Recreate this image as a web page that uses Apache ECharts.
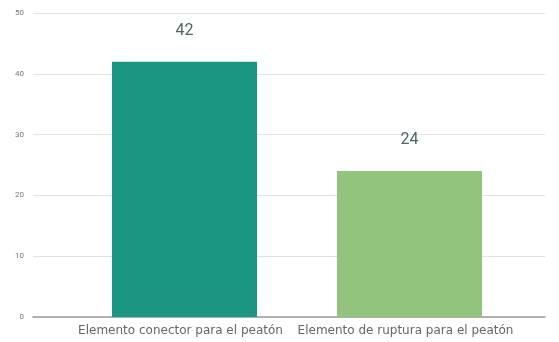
<!DOCTYPE html>
<html>
<head>
<meta charset="utf-8">
<script src="https://cdn.jsdelivr.net/npm/echarts@6/dist/echarts.min.js"></script>
<style>
  html, body { margin: 0; padding: 0; background: #fff; }
  #chart { width: 559px; height: 342px; }
</style>
</head>
<body>
<div id="chart"></div>
<script>
// Categories and counts
const categories = ['Elemento conector para el peatón', 'Elemento de ruptura para el peatón'];
const values = [42, 24];
const barColors = ['#1b9683', '#93c47d'];
const yTicks = [0, 10, 20, 30, 40, 50];

const chart = echarts.init(document.getElementById('chart'));

const yMin = yTicks[0];
const yMax = yTicks[yTicks.length - 1];
const yStep = yTicks[1] - yTicks[0];

chart.setOption({
  animation: false,
  textStyle: { fontFamily: 'Roboto, "Noto Sans", sans-serif' },
  grid: [
    // outer grid: value axis, gridlines
    { left: 33, right: 14, top: 13, bottom: 25 },
    // inner grid: the bars themselves
    { left: 72, right: 37, top: 13, bottom: 25 }
  ],
  xAxis: [
    { type: 'category', gridIndex: 0, data: [''], show: true,
      axisLine: { lineStyle: { color: '#9a9a9a', width: 1.5 } },
      axisTick: { show: false }, axisLabel: { show: false } },
    { type: 'category', gridIndex: 1, data: categories,
      axisLine: { show: false }, axisTick: { show: false },
      axisLabel: { color: '#666', fontSize: 12, margin: 8, interval: 0,
                   padding: [0, 8, 0, 0],
                   fontFamily: '"DejaVu Sans", sans-serif' } }
  ],
  yAxis: [
    { type: 'value', gridIndex: 0, min: yMin, max: yMax, interval: yStep,
      axisLine: { show: false }, axisTick: { show: false },
      axisLabel: { color: '#777', fontSize: 8, margin: 9 },
      splitLine: { lineStyle: { color: '#e3e3e3', width: 1 } } },
    { type: 'value', gridIndex: 1, min: yMin, max: yMax, interval: yStep,
      show: false, splitLine: { show: false } }
  ],
  series: [{
    type: 'bar',
    xAxisIndex: 1,
    yAxisIndex: 1,
    barWidth: 145,
    data: values.map((v, i) => ({ value: v, itemStyle: { color: barColors[i] } })),
    label: {
      show: true,
      position: 'top',
      distance: 23,
      color: '#4f6666',
      fontSize: 16
    }
  }]
});
</script>
</body>
</html>
